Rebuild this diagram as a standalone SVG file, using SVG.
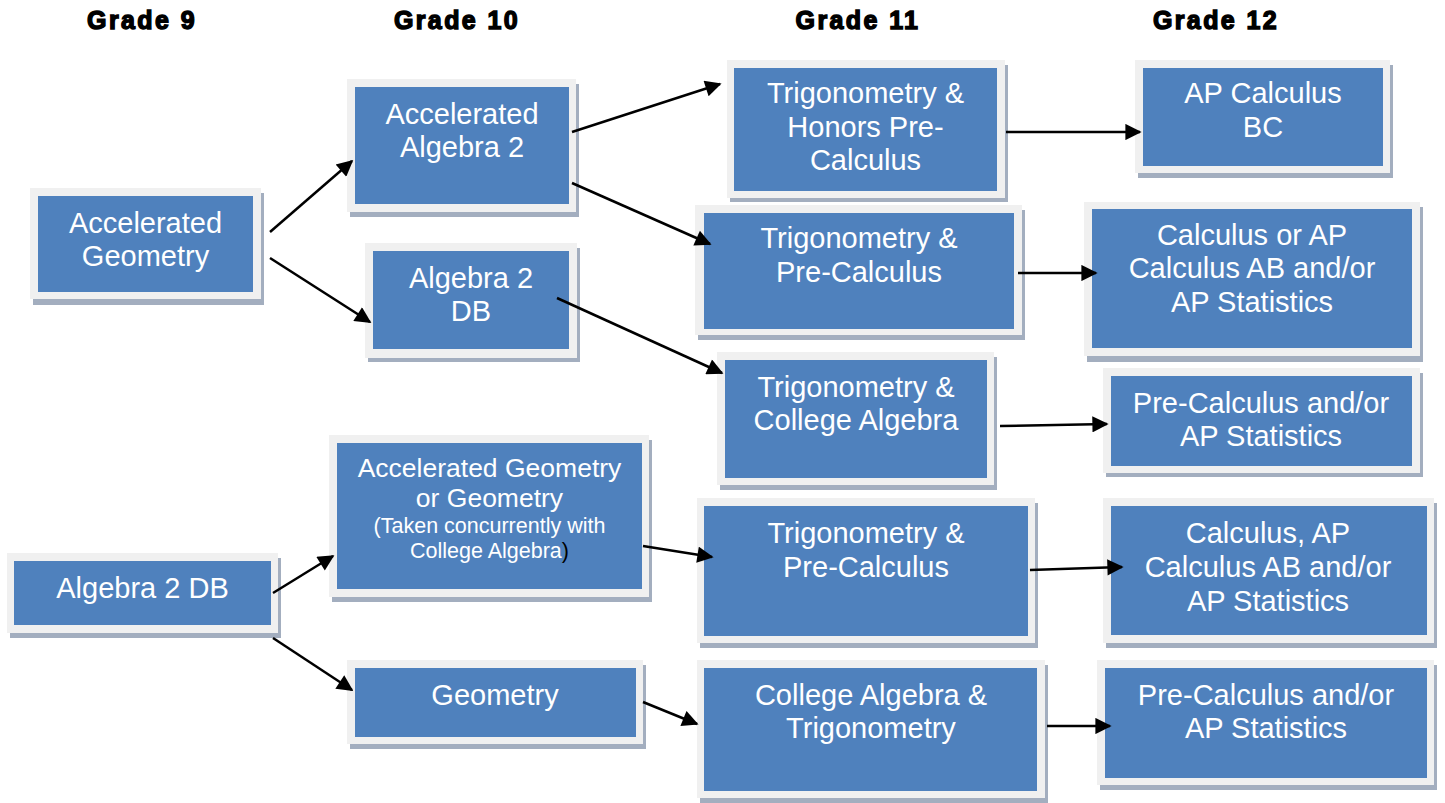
<svg xmlns="http://www.w3.org/2000/svg" width="1445" height="803" viewBox="0 0 1445 803">
<defs>
<style>
.sh{fill:#a3aebf}
.fr{fill:#f0f0f0}
.in{fill:#4f81bd}
.t{font-family:"Liberation Sans",Arial,sans-serif;font-size:29px;fill:#ffffff;text-anchor:middle}
.ts{font-size:21.5px}
.tm{font-size:26.5px}
.hd{font-family:"Liberation Sans",Arial,sans-serif;font-size:25px;font-weight:bold;fill:#000;stroke:#000;stroke-width:1.4;letter-spacing:2.4px;text-anchor:middle}
.c{stroke:#000;stroke-width:2.5;fill:none;marker-end:url(#ah)}
</style>
<marker id="ah" viewBox="0 0 10 10" refX="9" refY="5" markerWidth="7.5" markerHeight="6.5" orient="auto" markerUnits="strokeWidth">
<path d="M0,0 L10,5 L0,10 z" fill="#000"/>
</marker>
</defs>
<rect width="1445" height="803" fill="#ffffff"/>

<g id="headers">
<text class="hd" x="142" y="29">Grade 9</text>
<text class="hd" x="457" y="29">Grade 10</text>
<text class="hd" x="858" y="29">Grade 11</text>
<text class="hd" x="1216" y="29">Grade 12</text>
</g>

<g id="n-accel-geom-9">
<rect class="sh" x="33" y="193" width="231" height="112"/>
<rect class="fr" x="30" y="188" width="231" height="111"/>
<rect class="in" x="38" y="196" width="215" height="96"/>
<text class="t" x="145.5" y="233">Accelerated</text>
<text class="t" x="145.5" y="266">Geometry</text>
</g>

<g id="n-alg2db-9">
<rect class="sh" x="10" y="558" width="271" height="80"/>
<rect class="fr" x="7" y="553" width="271" height="80"/>
<rect class="in" x="14" y="561" width="257" height="64"/>
<text class="t" x="142.5" y="598">Algebra 2 DB</text>
</g>

<g id="n-accel-alg2">
<rect class="sh" x="350" y="84" width="229" height="133"/>
<rect class="fr" x="347" y="79" width="229" height="133"/>
<rect class="in" x="355" y="87" width="214" height="117"/>
<text class="t" x="462" y="124">Accelerated</text>
<text class="t" x="462" y="157">Algebra 2</text>
</g>

<g id="n-alg2db-10">
<rect class="sh" x="368" y="248" width="212" height="114"/>
<rect class="fr" x="365" y="243" width="212" height="115"/>
<rect class="in" x="373" y="251" width="196" height="98"/>
<text class="t" x="471" y="288">Algebra 2</text>
<text class="t" x="471" y="321">DB</text>
</g>

<g id="n-accel-geom-10">
<rect class="sh" x="332" y="440" width="320" height="162"/>
<rect class="fr" x="329" y="435" width="320" height="162"/>
<rect class="in" x="337" y="443" width="305" height="146"/>
<text class="t tm" x="489.5" y="477">Accelerated Geometry</text>
<text class="t tm" x="489.5" y="507">or Geometry</text>
<text class="t ts" x="489.5" y="533">(Taken concurrently  with</text>
<text class="t ts" x="489.5" y="558">College Algebra<tspan fill="#000">)</tspan></text>
</g>

<g id="n-geometry">
<rect class="sh" x="350" y="665" width="296" height="84"/>
<rect class="fr" x="347" y="660" width="296" height="84"/>
<rect class="in" x="355" y="668" width="281" height="69"/>
<text class="t" x="495" y="705">Geometry</text>
</g>

<g id="n-trig-honors">
<rect class="sh" x="730" y="65" width="278" height="137"/>
<rect class="fr" x="727" y="60" width="278" height="138"/>
<rect class="in" x="734" y="68" width="263" height="123"/>
<text class="t" x="865.5" y="103">Trigonometry &amp;</text>
<text class="t" x="865.5" y="137">Honors Pre-</text>
<text class="t" x="865.5" y="170">Calculus</text>
</g>

<g id="n-trig-precalc-1">
<rect class="sh" x="698" y="210" width="327" height="130"/>
<rect class="fr" x="695" y="205" width="327" height="130"/>
<rect class="in" x="704" y="213" width="310" height="116"/>
<text class="t" x="859" y="248">Trigonometry &amp;</text>
<text class="t" x="859" y="282">Pre-Calculus</text>
</g>

<g id="n-trig-college">
<rect class="sh" x="720" y="357" width="277" height="133"/>
<rect class="fr" x="717" y="352" width="277" height="133"/>
<rect class="in" x="725" y="360" width="262" height="118"/>
<text class="t" x="856" y="397">Trigonometry &amp;</text>
<text class="t" x="856" y="430">College Algebra</text>
</g>

<g id="n-trig-precalc-2">
<rect class="sh" x="700" y="503" width="338" height="145"/>
<rect class="fr" x="697" y="498" width="338" height="145"/>
<rect class="in" x="704" y="506" width="324" height="130"/>
<text class="t" x="866" y="543">Trigonometry &amp;</text>
<text class="t" x="866" y="577">Pre-Calculus</text>
</g>

<g id="n-college-trig">
<rect class="sh" x="700" y="665" width="348" height="138"/>
<rect class="fr" x="697" y="660" width="348" height="138"/>
<rect class="in" x="704" y="668" width="333" height="123"/>
<text class="t" x="871" y="705">College Algebra &amp;</text>
<text class="t" x="871" y="738">Trigonometry</text>
</g>

<g id="n-ap-calc-bc">
<rect class="sh" x="1138" y="65" width="255" height="113"/>
<rect class="fr" x="1135" y="60" width="255" height="113"/>
<rect class="in" x="1143" y="68" width="240" height="98"/>
<text class="t" x="1263" y="103">AP Calculus</text>
<text class="t" x="1263" y="137">BC</text>
</g>

<g id="n-calc-or-ap">
<rect class="sh" x="1087" y="207" width="336" height="155"/>
<rect class="fr" x="1084" y="202" width="336" height="154"/>
<rect class="in" x="1092" y="209" width="320" height="139"/>
<text class="t" x="1252" y="245">Calculus or AP</text>
<text class="t" x="1252" y="278">Calculus AB and/or</text>
<text class="t" x="1252" y="312">AP Statistics</text>
</g>

<g id="n-precalc-1">
<rect class="sh" x="1106" y="373" width="317" height="104"/>
<rect class="fr" x="1103" y="368" width="317" height="105"/>
<rect class="in" x="1111" y="376" width="301" height="90"/>
<text class="t" x="1261" y="413">Pre-Calculus and/or</text>
<text class="t" x="1261" y="446">AP Statistics</text>
</g>

<g id="n-calc-ap">
<rect class="sh" x="1106" y="503" width="331" height="145"/>
<rect class="fr" x="1103" y="498" width="331" height="145"/>
<rect class="in" x="1111" y="506" width="316" height="129"/>
<text class="t" x="1268" y="543">Calculus, AP</text>
<text class="t" x="1268" y="577">Calculus AB and/or</text>
<text class="t" x="1268" y="611">AP Statistics</text>
</g>

<g id="n-precalc-2">
<rect class="sh" x="1100" y="665" width="337" height="125"/>
<rect class="fr" x="1097" y="660" width="337" height="125"/>
<rect class="in" x="1105" y="668" width="322" height="110"/>
<text class="t" x="1266" y="705">Pre-Calculus and/or</text>
<text class="t" x="1266" y="738">AP Statistics</text>
</g>

<g id="connectors">
<line class="c" x1="270" y1="232" x2="352" y2="161"/>
<line class="c" x1="270" y1="258" x2="370" y2="322"/>
<line class="c" x1="572" y1="132" x2="720" y2="84"/>
<line class="c" x1="572" y1="183" x2="710" y2="244"/>
<line class="c" x1="557" y1="298" x2="722" y2="373"/>
<line class="c" x1="1006" y1="132" x2="1140" y2="132"/>
<line class="c" x1="1018" y1="273" x2="1096" y2="273"/>
<line class="c" x1="1000" y1="426" x2="1107" y2="424"/>
<line class="c" x1="273" y1="593" x2="333" y2="556"/>
<line class="c" x1="273" y1="638" x2="352" y2="690"/>
<line class="c" x1="643" y1="546" x2="712" y2="557"/>
<line class="c" x1="1030" y1="570" x2="1122" y2="567"/>
<line class="c" x1="643" y1="702" x2="697" y2="724"/>
<line class="c" x1="1047" y1="726" x2="1110" y2="726"/>
</g>
</svg>
